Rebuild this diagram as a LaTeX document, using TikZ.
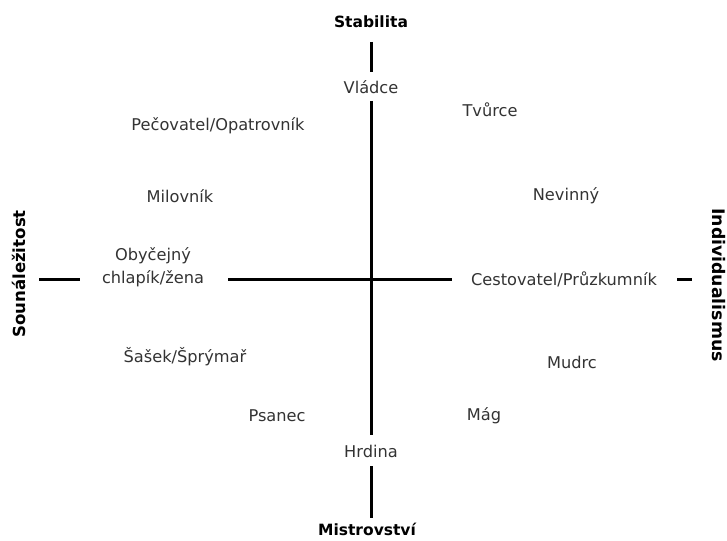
\documentclass[tikz,border=0pt]{standalone}
\usepackage{fontspec}
\setmainfont{DejaVu Sans}
\begin{document}
\begin{tikzpicture}[x=1pt,y=-1pt,
  lbl/.style={font=\fontsize{16.2}{22.5}\selectfont, text=black!80, align=center, inner sep=0pt},
  axis/.style={font=\bfseries\fontsize{15.5}{17}\selectfont, inner sep=0pt},
  ln/.style={line width=3pt, black}]
\useasboundingbox (0,0) rectangle (727,540);
\fill[white] (0,0) rectangle (727,540);
% axis titles
\node[axis] (stab) at (371,22) {Stabilita};
\node[axis] (mist) at (367,529) {Mistrovství};
\node[axis, rotate=90, font=\bfseries\fontsize{16.6}{18}\selectfont] (soun) at (19,274) {Sounáležitost};
\node[axis, rotate=-90, font=\bfseries\fontsize{17.3}{19}\selectfont] (indi) at (719,285) {Individualismus};
% axis ends
\coordinate (t1) at (371,42); \coordinate (t2) at (371,72);
\coordinate (v1) at (371,101); \coordinate (v2) at (371,435);
\coordinate (b1) at (371,466); \coordinate (b2) at (371,518);
\coordinate (l1) at (39,279); \coordinate (l2) at (80,279);
\coordinate (h1) at (228,279); \coordinate (h2) at (452,279);
\coordinate (r1) at (677,279); \coordinate (r2) at (692,279);
\draw[ln] (t1) -- (t2);
\draw[ln] (v1) -- (v2);
\draw[ln] (b1) -- (b2);
\draw[ln] (l1) -- (l2);
\draw[ln] (h1) -- (h2);
\draw[ln] (r1) -- (r2);
% labels
\node[lbl] (vladce) at (371,87) {Vládce};
\node[lbl] (hrdina) at (371,451) {Hrdina};
\node[lbl] (obyc) at (153,267) {Obyčejný\\chlapík/žena};
\node[lbl] (cest) at (564,279) {Cestovatel/Průzkumník};
\node[lbl] (pec) at (218,126) {Pečovatel/Opatrovník};
\node[lbl] (tvurce) at (490,110) {Tvůrce};
\node[lbl] (milov) at (180,196) {Milovník};
\node[lbl] (nevin) at (566,196) {Nevinný};
\node[lbl] (sasek) at (185,357) {Šašek/Šprýmař};
\node[lbl] (mudrc) at (572,362) {Mudrc};
\node[lbl] (psanec) at (277,416) {Psanec};
\node[lbl] (mag) at (484,416) {Mág};
\end{tikzpicture}
\end{document}
